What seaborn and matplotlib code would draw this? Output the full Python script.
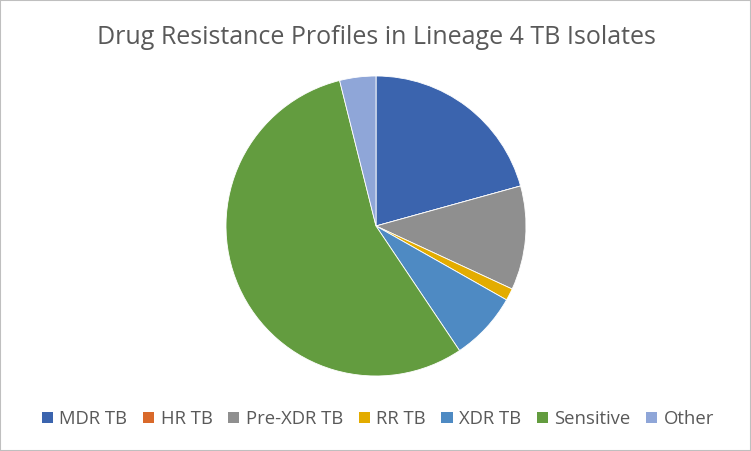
import matplotlib
matplotlib.use("Agg")
import matplotlib.pyplot as plt
from matplotlib.patches import Patch, Rectangle
import seaborn as sns

sns.set_theme(style="white")
plt.rcParams['font.family'] = ['Open Sans', 'DejaVu Sans']

# data (percent)
labels = ['MDR TB', 'HR TB', 'Pre-XDR TB', 'RR TB', 'XDR TB', 'Sensitive', 'Other']
values = [20.7, 0.0, 11.2, 1.3, 7.4, 55.5, 3.9]
colors = sns.color_palette(['#3b64ae', '#d9692a', '#8f8f8f', '#e3ac00',
                            '#4e8ac3', '#639c3f', '#8fa6d8'])

fig = plt.figure(figsize=(7.51, 4.51), dpi=100)
fig.patches.append(Rectangle((0, 0), 1, 1, transform=fig.transFigure,
                             fill=False, edgecolor='#bfbfbf', lw=1.5))

ax = fig.add_axes([226 / 751, 75 / 451, 300 / 751, 300 / 451])
ax.pie(values, colors=colors, startangle=90, counterclock=False,
       radius=1.0, wedgeprops=dict(linewidth=0.6, edgecolor='white'))
ax.set_xlim(-1, 1)
ax.set_ylim(-1, 1)
ax.set_aspect('equal')
ax.axis('off')

fig.text(376 / 751, 1 - 37 / 451, 'Drug Resistance Profiles in Lineage 4 TB Isolates',
         ha='center', va='center', fontsize=18, color='#595959')

handles = [Patch(facecolor=c, edgecolor='none', label=l) for l, c in zip(labels, colors)]
fig.legend(handles=handles, loc='center', bbox_to_anchor=(378 / 751, 1 - 419 / 451),
           ncol=7, frameon=False, fontsize=13.3, handlelength=0.6, handleheight=0.6,
           handletextpad=0.35, columnspacing=0.85, labelcolor='#595959')

fig.savefig('out.png', dpi=100)
